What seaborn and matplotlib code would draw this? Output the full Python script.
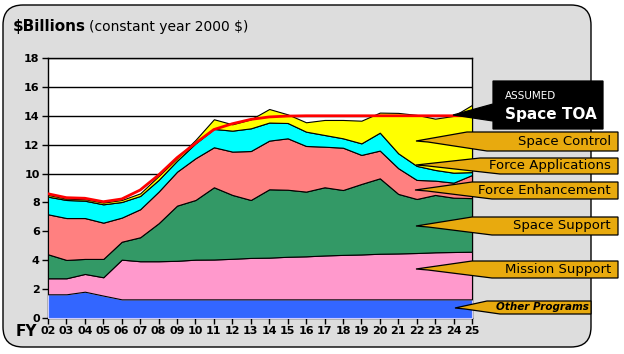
import numpy as np
import pandas as pd
import seaborn as sns
import matplotlib.pyplot as plt
from matplotlib.patches import FancyBboxPatch, Polygon

# fiscal years 02..25
years = ['02', '03', '04', '05', '06', '07', '08', '09', '10', '11', '12', '13',
         '14', '15', '16', '17', '18', '19', '20', '21', '22', '23', '24', '25']

# layers, bottom to top ($B, constant year 2000)
other_programs = [1.64, 1.64, 1.82, 1.55, 1.29, 1.29, 1.29, 1.29, 1.29, 1.29, 1.29, 1.29,
                  1.29, 1.29, 1.29, 1.29, 1.29, 1.29, 1.29, 1.29, 1.29, 1.29, 1.29, 1.29]
mission_support = [1.11, 1.11, 1.23, 1.27, 2.75, 2.64, 2.64, 2.67, 2.75, 2.76, 2.81, 2.87,
                   2.89, 2.95, 2.98, 3.04, 3.08, 3.11, 3.16, 3.18, 3.21, 3.26, 3.28, 3.30]
space_support = [1.66, 1.27, 1.04, 1.27, 1.24, 1.66, 2.63, 3.82, 4.13, 5.00, 4.42, 4.01,
                 4.73, 4.64, 4.48, 4.72, 4.49, 4.88, 5.22, 4.12, 3.74, 3.97, 3.76, 3.71]
force_enhancement = [2.77, 2.90, 2.83, 2.51, 1.67, 1.94, 2.19, 2.35, 2.89, 2.77, 3.00, 3.39,
                     3.37, 3.56, 3.16, 2.81, 2.93, 2.01, 1.92, 1.78, 1.32, 0.99, 1.04, 1.60]
force_applications = [1.22, 1.25, 1.20, 1.27, 1.08, 0.92, 0.81, 0.76, 1.03, 1.27, 1.45, 1.57,
                      1.25, 1.06, 0.99, 0.81, 0.65, 0.80, 1.24, 1.03, 0.97, 0.74, 0.69, 0.20]
space_control = [0.12, 0.09, 0.10, 0.12, 0.14, 0.18, 0.27, 0.17, 0.24, 0.67, 0.44, 0.62,
                 0.94, 0.60, 0.65, 1.04, 1.27, 1.57, 1.39, 2.80, 3.53, 3.55, 3.93, 4.65]
# assumed space total obligation authority
space_toa = [8.60, 8.33, 8.29, 8.05, 8.24, 8.86, 9.90, 11.10, 12.10, 13.05, 13.45, 13.75,
             13.92, 13.98, 14.0, 14.0, 14.0, 14.0, 14.0, 14.0, 14.0, 14.0, 14.0, 14.0]

layers = ['Other Programs', 'Mission Support', 'Space Support',
          'Force Enhancement', 'Force Applications', 'Space Control']
colors = ['#3366FF', '#FF99CC', '#339966', '#FF8080', '#00FFFF', '#FFFF00']

df = pd.DataFrame({
    'Other Programs': other_programs,
    'Mission Support': mission_support,
    'Space Support': space_support,
    'Force Enhancement': force_enhancement,
    'Force Applications': force_applications,
    'Space Control': space_control,
    'Space TOA': space_toa,
})
df['x'] = np.arange(len(years))

sns.set_style('white')
plt.rcParams['font.family'] = ['DejaVu Sans']
plt.rcParams['text.color'] = 'black'
plt.rcParams['xtick.color'] = 'black'
plt.rcParams['ytick.color'] = 'black'

W, H = 624, 354
fig = plt.figure(figsize=(W / 100, H / 100), dpi=100)
fig.patch.set_facecolor('white')
tr = fig.dpi_scale_trans


def p(x, y):
    # pixel (top-left origin) -> inches
    return (x / 100, (H - y) / 100)


# grey rounded panel
panel = FancyBboxPatch(p(3, 347), 588 / 100, 342 / 100,
                       boxstyle='round,pad=0,rounding_size=0.2',
                       transform=tr, facecolor='#DDDDDD', edgecolor='black', lw=1.0, zorder=-2)
fig.patches.append(panel)

ax = fig.add_axes([48 / W, 1 - 318 / H, (472 - 48) / W, (318 - 58) / H])
ax.set_zorder(1)
ax.set_facecolor('white')

polys = ax.stackplot(df['x'], [df[c] for c in layers], colors=colors,
                     edgecolor='black', linewidth=0.8, zorder=3)
polys[0].set_edgecolor('#CCCCFF')
sns.lineplot(data=df, x='x', y='Space TOA', color='red', lw=2.0, ax=ax, zorder=4)

ax.set_xlim(0, len(years) - 1)
ax.set_ylim(0, 18)
ax.set_yticks(range(0, 19, 2))
ax.set_xticks(df['x'])
ax.set_xticklabels(years)
ax.yaxis.grid(True, color='black', lw=1.0, zorder=1)
ax.set_axisbelow(True)
ax.set_xlabel('')
ax.set_ylabel('')
for s in ax.spines.values():
    s.set_color('black')
    s.set_linewidth(1.0)
ax.tick_params(axis='both', which='both', direction='out', length=4, width=1,
               color='black', labelcolor='black', labelsize=8, pad=2, bottom=True, left=True)
for lab in ax.get_xticklabels() + ax.get_yticklabels():
    lab.set_fontweight('bold')

# titles
fig.text(13 / W, 1 - 27 / H, '$Billions', fontsize=11, fontweight='bold', va='center', ha='left')
fig.text(89 / W, 1 - 27 / H, '(constant year 2000 $)', fontsize=10, va='center', ha='left')
fig.text(16 / W, 1 - 331 / H, 'FY', fontsize=11, fontweight='bold', va='center', ha='left')

# callouts: (text, tip_x, tip_y, box_left, top, bottom, right)
gold = '#E8AA0E'
callouts = [
    ('Space Control', 416, 141, 467, 132, 151, 618),
    ('Force Applications', 416, 165, 480, 158, 174, 618),
    ('Force Enhancement', 415, 190, 472, 182, 199, 618),
    ('Space Support', 416, 226, 472, 217, 235, 618),
    ('Mission Support', 416, 269, 472, 261, 278, 618),
]
for name, tx, ty, bl, top, bot, right in callouts:
    pts = [p(tx, ty), p(bl, top), p(right, top), p(right, bot), p(bl + 20, bot), p(tx + 12, ty + 1)]
    fig.patches.append(Polygon(pts, closed=True, transform=tr, facecolor=gold,
                               edgecolor='black', lw=0.9, zorder=5))
    fig.text((right - 7) / W, 1 - ((top + bot) / 2 - 0.5) / H, name, fontsize=9.5,
             ha='right', va='center', zorder=6)

# other programs (italic)
pts = [p(455, 308), p(487, 301), p(591, 301), p(591, 314), p(500, 314), p(465, 309)]
fig.patches.append(Polygon(pts, closed=True, transform=tr, facecolor=gold,
                           edgecolor='black', lw=0.9, zorder=5))
fig.text(589 / W, 1 - 307.5 / H, 'Other Programs', fontsize=7.5, fontstyle='italic',
         fontweight='bold', ha='right', va='center', zorder=6)

# assumed space TOA box
pts = [p(453, 115), p(493, 104), p(493, 81), p(603, 81), p(603, 129), p(493, 129), p(493, 121)]
fig.patches.append(Polygon(pts, closed=True, transform=tr, facecolor='black',
                           edgecolor='black', lw=0.9, zorder=5))
fig.text(505 / W, 1 - 96 / H, 'ASSUMED', fontsize=7.5, color='white', ha='left', va='center', zorder=6)
fig.text(505 / W, 1 - 114 / H, 'Space TOA', fontsize=11, fontweight='bold', color='white',
         ha='left', va='center', zorder=6)

fig.savefig('out.png', dpi=100)
